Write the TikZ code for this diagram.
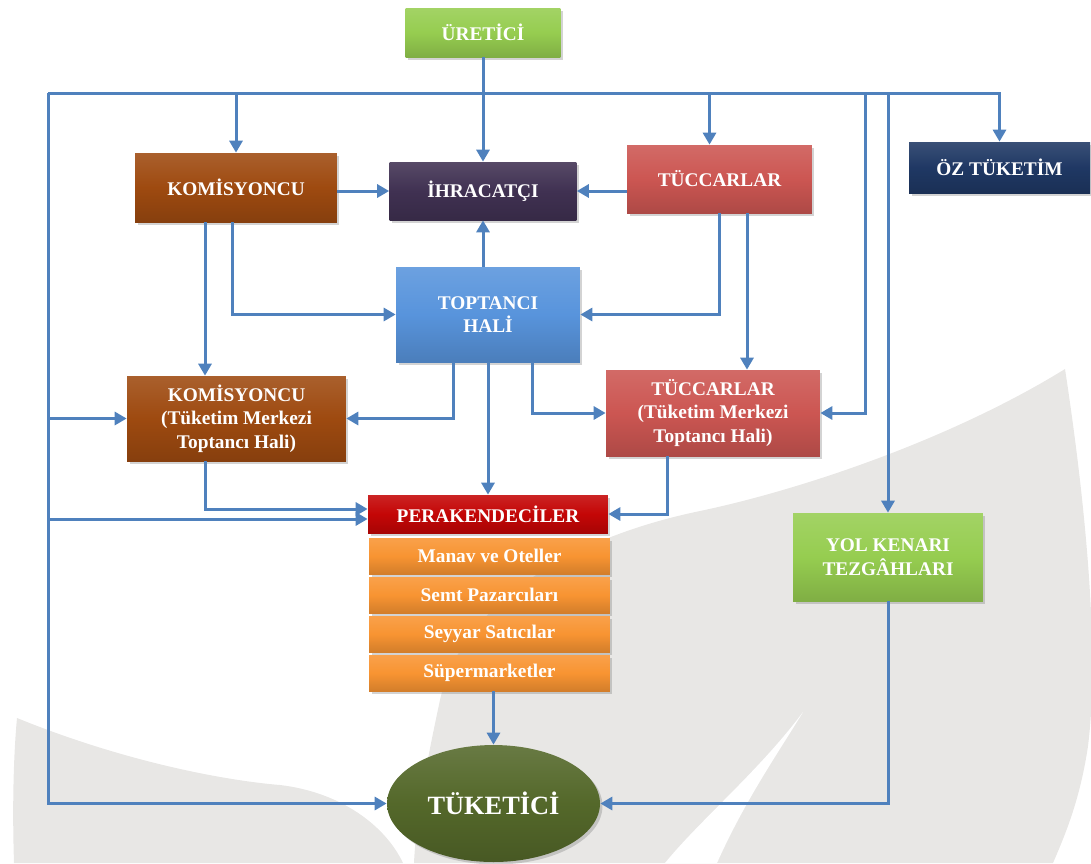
\documentclass[tikz,border=0pt]{standalone}
\usepackage{fontspec}
\setmainfont{Liberation Serif}
\usetikzlibrary{arrows.meta, positioning, shapes.geometric, shadows}
\definecolor{akisblue}{RGB}{79,129,189}
\definecolor{zemingray}{RGB}{232,231,229}
\definecolor{acikgreen}{RGB}{150,205,80}
\definecolor{kahve}{RGB}{158,74,16}
\definecolor{mor}{RGB}{64,49,82}
\definecolor{tucred}{RGB}{204,86,82}
\definecolor{lacivert}{RGB}{31,56,100}
\definecolor{halblue}{RGB}{88,148,220}
\definecolor{perred}{RGB}{196,6,6}
\definecolor{altorange}{RGB}{248,148,50}
\definecolor{zeytin}{RGB}{84,104,42}

\begin{document}
\begin{tikzpicture}[x=0.02cm, y=-0.02cm,
  kutu/.style={rectangle, inner sep=2pt, align=center, text=white,
    font=\bfseries\fontsize{11}{13.5}\selectfont,
    top color=#1!88!white, bottom color=#1!85!black, middle color=#1,
    drop shadow={shadow xshift=0.05cm, shadow yshift=-0.05cm, opacity=0.35}},
  alt/.style={kutu=altorange, minimum width=4.82cm, minimum height=0.72cm,
    font=\bfseries\fontsize{11}{13}\selectfont},
  akis/.style={draw=akisblue, line width=0.06cm, -{Triangle[length=0.24cm, width=0.26cm]}}]
  \useasboundingbox (0,0) rectangle (1091,863);
  % arka plan yapraklari
  \fill[zemingray] (1065,369) .. controls (950,440) and (800,490) .. (700,511)
    .. controls (560,540) and (460,610) .. (440,700)
    .. controls (425,770) and (416,820) .. (414,863) -- (1053,863)
    .. controls (1065,835) and (1080,800) .. (1088,746)
    .. controls (1100,650) and (1085,500) .. (1065,369) -- cycle;
  \fill[white] (803,712) .. controls (760,770) and (700,820) .. (665,863) -- (717,863)
    .. controls (745,800) and (780,750) .. (803,712) -- cycle;
  \fill[zemingray] (17,718) .. controls (120,760) and (220,780) .. (280,785)
    .. controls (340,792) and (385,825) .. (403,863) -- (14,863)
    .. controls (12,800) and (14,750) .. (17,718) -- cycle;

  \node[kutu=acikgreen, minimum width=3.1cm, minimum height=0.98cm] (uretici) at (483,32.5) {ÜRETİCİ};
  \node[kutu=kahve, minimum width=4.04cm, minimum height=1.38cm] (kom1) at (236,187.5) {KOMİSYONCU};
  \node[kutu=mor, minimum width=3.74cm, minimum height=1.16cm] (ihr) at (483,191) {İHRACATÇI};
  \node[kutu=tucred, minimum width=3.7cm, minimum height=1.36cm] (tuc1) at (719.5,179) {TÜCCARLAR};
  \node[kutu=lacivert, minimum width=3.62cm, minimum height=1.02cm] (oz) at (999.5,167.5) {ÖZ TÜKETİM};
  \node[kutu=halblue, minimum width=3.68cm, minimum height=1.9cm] (top) at (488,314.5) {TOPTANCI\\HALİ};
  \node[kutu=kahve, minimum width=4.38cm, minimum height=1.7cm] (kom2) at (236.5,418.5) {KOMİSYONCU\\(Tüketim Merkezi\\Toptancı Hali)};
  \node[kutu=tucred, minimum width=4.28cm, minimum height=1.72cm] (tuc2) at (713,413) {TÜCCARLAR\\(Tüketim Merkezi\\Toptancı Hali)};
  \node[kutu=perred, minimum width=4.8cm, minimum height=0.76cm] (per) at (488,514) {PERAKENDECİLER};
  \foreach \i/\y/\metin in {1/556/Manav ve Oteller, 2/595/Semt Pazarcıları,
                             3/634/Seyyar Satıcılar, 4/673/Süpermarketler}
    \node[alt] (alt\i) at (489.5,\y) {\metin};
  \node[kutu=acikgreen, minimum width=3.8cm, minimum height=1.76cm] (yol) at (888,557) {YOL KENARI\\TEZGÂHLARI};
  \node[kutu=zeytin, ellipse, inner sep=0pt, minimum width=4.26cm, minimum height=2.34cm,
    font=\bfseries\fontsize{15}{17}\selectfont] (tuk) at (493.5,803.5) {TÜKETİCİ};

  \coordinate (busL) at (48,93);
  \coordinate (busA) at (865,93);
  \coordinate (tucin) at ([xshift=-0.2cm]tuc1.north);
  \coordinate (kolA) at ([xshift=-0.62cm]kom1.south);
  \coordinate (kolB) at ([xshift=-0.08cm]kom1.south);
  \coordinate (kolC) at ([xshift=0.55cm]tuc1.south);
  \coordinate (kolD) at ([xshift=-0.7cm]top.south);
  \coordinate (kolE) at ([xshift=0.88cm]top.south);
  \coordinate (kolF) at ([xshift=-0.63cm]kom2.south);
  \coordinate (kolG) at ([xshift=-0.92cm]tuc2.south);
  \coordinate (perL1) at ([yshift=0.1cm]per.west);
  \coordinate (perL2) at ([yshift=-0.1cm]per.west);

  \draw[akis] (busL) -- (oz.north |- busL) -- (oz.north);
  \draw[akis] (uretici) -- (ihr);
  \draw[akis] (kom1.north |- busL) -- (kom1.north);
  \draw[akis] (tucin |- busL) -- (tucin);
  \draw[akis] (busL) |- (tuk.west);
  \draw[akis] (busL |- kom2.west) -- (kom2.west);
  \draw[akis] (busL |- perL2) -- (perL2);
  \draw[akis] (busA) |- (tuc2.east);
  \draw[akis] (yol.north |- busL) -- (yol.north);
  \draw[akis] (kom1.east |- ihr.west) -- (ihr.west);
  \draw[akis] (tuc1.west |- ihr.east) -- (ihr.east);
  \draw[akis] (ihr.south |- top.north) -- (ihr.south);
  \draw[akis] (kolA) -- (kolA |- kom2.north);
  \draw[akis] (kolB) |- (top.west);
  \draw[akis] (tuc1.south) |- (top.east);
  \draw[akis] (kolC) -- (kolC |- tuc2.north);
  \draw[akis] (kolD) |- (kom2.east);
  \draw[akis] (top.south) -- (per.north);
  \draw[akis] (kolE) |- (tuc2.west);
  \draw[akis] (kolF) |- (perL1);
  \draw[akis] (kolG) |- (per.east);
  \draw[akis] (tuk.north |- alt4.south) -- (tuk.north);
  \draw[akis] (yol.south) |- (tuk.east);
\end{tikzpicture}
\end{document}
